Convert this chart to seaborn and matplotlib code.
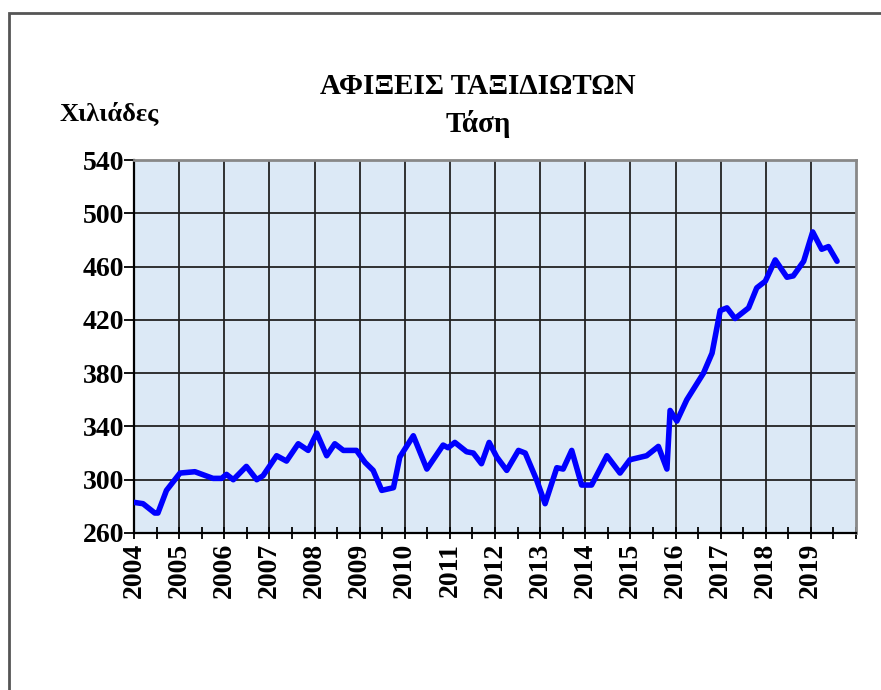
import matplotlib
matplotlib.use("Agg")
import matplotlib.pyplot as plt
from matplotlib.patches import Rectangle
from matplotlib.ticker import MultipleLocator
import pandas as pd
import seaborn as sns

# τιμές διαβασμένες από το διάγραμμα (χρόνος σε δεκαδικά έτη, χιλιάδες αφίξεις)
years = [2004.00, 2004.20, 2004.46, 2004.53, 2004.72, 2005.02, 2005.35, 2005.75,
         2005.94, 2006.05, 2006.20, 2006.49, 2006.72, 2006.86, 2007.16, 2007.38,
         2007.64, 2007.86, 2008.05, 2008.27, 2008.45, 2008.64, 2008.93, 2009.12,
         2009.30, 2009.49, 2009.75, 2009.89, 2010.19, 2010.49, 2010.85, 2010.96,
         2011.11, 2011.37, 2011.52, 2011.70, 2011.87, 2012.04, 2012.26, 2012.52,
         2012.67, 2012.92, 2013.11, 2013.37, 2013.51, 2013.70, 2013.92, 2014.14,
         2014.48, 2014.77, 2014.99, 2015.36, 2015.62, 2015.81, 2015.88, 2016.03,
         2016.25, 2016.62, 2016.81, 2016.99, 2017.14, 2017.32, 2017.62, 2017.80,
         2017.99, 2018.21, 2018.47, 2018.61, 2018.84, 2019.04, 2019.24, 2019.39,
         2019.58]
arrivals = [283, 282, 275, 275, 292, 305, 306, 301,
            301, 304, 300, 310, 300, 303, 318, 314,
            327, 322, 335, 318, 327, 322, 322, 313,
            307, 292, 294, 317, 333, 308, 326, 324,
            328, 321, 320, 312, 328, 317, 307, 322,
            320, 300, 282, 309, 308, 322, 296, 296,
            318, 305, 315, 318, 325, 308, 352, 344,
            360, 380, 395, 427, 429, 421, 429, 444,
            449, 465, 452, 453, 464, 486, 473, 475,
            464]
year_labels = [str(y) for y in range(2004, 2020)]
y_ticks = [260, 300, 340, 380, 420, 460, 500, 540]

df = pd.DataFrame({"year": years, "arrivals": arrivals})

sns.set_style("ticks")
plt.rcParams['font.family'] = ['Liberation Serif', 'DejaVu Serif']
plt.rcParams['font.weight'] = 'bold'
plt.rcParams['text.color'] = 'black'
plt.rcParams['xtick.color'] = 'black'
plt.rcParams['ytick.color'] = 'black'

fig = plt.figure(figsize=(8.81, 6.90), dpi=100)
ax = fig.add_axes([134 / 881, 1 - 533 / 690, 722 / 881, 373 / 690])
ax.set_facecolor("#dce9f6")

sns.lineplot(data=df, x="year", y="arrivals", ax=ax, color="#0000ff",
             linewidth=4, zorder=3, solid_joinstyle="round",
             solid_capstyle="round")

ax.set_xlim(2004, 2020)
ax.set_ylim(260, 540)
ax.set_xticks(range(2004, 2020))
ax.set_xticklabels(year_labels, rotation=90, fontsize=20, fontweight="bold")
ax.xaxis.set_minor_locator(MultipleLocator(0.5))
ax.set_yticks(y_ticks)
ax.set_yticklabels([str(v) for v in y_ticks], fontsize=20, fontweight="bold")
ax.set_xlabel("")
ax.set_ylabel("")

ax.grid(True, which="major", color="#222222", linewidth=1.3)
ax.tick_params(axis="x", which="both", direction="inout", length=8, width=1.3,
               pad=3)
ax.tick_params(axis="y", direction="out", length=7, width=1.3, pad=0)

for side in ["left", "bottom"]:
    ax.spines[side].set_color("black")
    ax.spines[side].set_linewidth(1.6)
for side in ["top", "right"]:
    ax.spines[side].set_color("#888888")
    ax.spines[side].set_linewidth(2)

fig.text(478 / 881, 1 - 86 / 690, "ΑΦΙΞΕΙΣ ΤΑΞΙΔΙΩΤΩΝ", ha="center", va="center",
         fontsize=21, fontweight="bold")
fig.text(478 / 881, 1 - 124 / 690, "Τάση", ha="center", va="center",
         fontsize=21, fontweight="bold")
fig.text(109 / 881, 1 - 113 / 690, "Χιλιάδες", ha="center", va="center",
         fontsize=19, fontweight="bold")

# περίγραμμα σελίδας
fig.patches.append(Rectangle((9 / 881, -0.1), 1.2, 1 - 13 / 690 + 0.1,
                             transform=fig.transFigure, fill=False,
                             edgecolor="#555555", linewidth=2))

fig.savefig("out.png", dpi=100)
